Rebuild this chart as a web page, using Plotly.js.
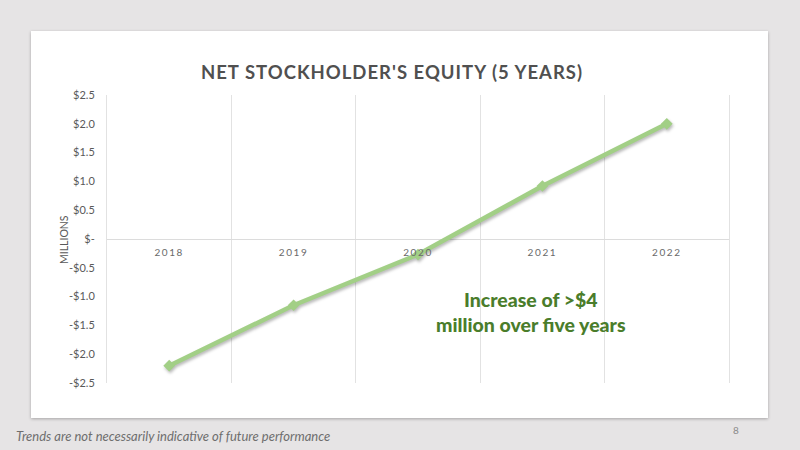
<!DOCTYPE html>
<html>
<head>
<meta charset="utf-8">
<script src="https://cdn.plot.ly/plotly-3.0.1.min.js"></script>
<style>
  html, body { margin: 0; padding: 0; }
  body { width: 800px; height: 450px; background: #e6e4e5; position: relative; overflow: hidden; }
  #card { position: absolute; left: 31px; top: 31px; width: 737px; height: 387px; background: #ffffff;
          box-shadow: 0 1px 3px rgba(0,0,0,0.28); }
  #chart { position: absolute; left: 0; top: 0; width: 800px; height: 450px; }
  #chart .xtick text { letter-spacing: 1.6px; }
  #chart .gtitle { letter-spacing: 1px; }
  #chart .scatterlayer .trace { filter: drop-shadow(1px 2px 1.5px rgba(0,0,0,0.28)); }
</style>
</head>
<body>
<div id="card"></div>
<div id="chart"></div>
<script>
// Net stockholder's equity, in millions of dollars
const years = ['2018', '2019', '2020', '2021', '2022'];
const equity = [-2.2, -1.15, -0.27, 0.92, 2.0];

// Value-axis ticks
const yTickVals = [2.5, 2.0, 1.5, 1.0, 0.5, 0, -0.5, -1.0, -1.5, -2.0, -2.5];
const yTickText = ['$2.5', '$2.0', '$1.5', '$1.0', '$0.5', '$-', '-$0.5', '-$1.0', '-$1.5', '-$2.0', '-$2.5'];

const chartTitle = "NET STOCKHOLDER'S EQUITY (5 YEARS)";
const axisLabel = 'MILLIONS';
const callout = 'Increase of >$4<br>million over five years';
const footnote = 'Trends are not necessarily indicative of future performance';
const pageNumber = '8';

const W = 800, H = 450;
const margin = { l: 107, r: 71, t: 95, b: 67 };
const plotW = W - margin.l - margin.r;
const plotH = H - margin.t - margin.b;
// pixel position -> paper fraction helpers for page furniture
const px = x => (x - margin.l) / plotW;
const py = y => (H - margin.b - y) / plotH;

const lineGreen = '#a2cf86';
const gridGrey = '#e2e2e2';

const trace = {
  type: 'scatter',
  mode: 'lines+markers',
  x: years,
  y: equity,
  line: { color: lineGreen, width: 4.5 },
  marker: { symbol: 'diamond', size: 9, color: lineGreen },
  hoverinfo: 'skip',
  showlegend: false
};

const layout = {
  width: W,
  height: H,
  margin: margin,
  paper_bgcolor: 'rgba(0,0,0,0)',
  plot_bgcolor: 'rgba(0,0,0,0)',
  font: { family: 'Lato, "Open Sans", sans-serif', color: '#595959' },
  title: {
    text: '<b>' + chartTitle + '</b>',
    font: { family: 'Lato, sans-serif', size: 18.5, color: '#505050', weight: 900 },
    xref: 'container', yref: 'container',
    x: 0.49, xanchor: 'center',
    y: 1 - 73 / H, yanchor: 'middle'
  },
  xaxis: {
    type: 'category',
    range: [-0.5, 4.5],
    tickson: 'boundaries',
    ticks: '',
    ticklabelstandoff: 6,
    showgrid: true,
    gridcolor: gridGrey,
    gridwidth: 1,
    showline: false,
    zeroline: false,
    anchor: 'free',
    position: 0.5,
    tickfont: { family: 'Lato, sans-serif', size: 10, color: '#6a6a6a' },
    fixedrange: true
  },
  yaxis: {
    range: [-2.5, 2.5],
    tickvals: yTickVals,
    ticktext: yTickText,
    ticks: '',
    ticklabelstandoff: 9,
    showgrid: false,
    zeroline: true,
    zerolinecolor: '#dcdcdc',
    zerolinewidth: 1,
    // outer vertical frame lines at both plot edges
    showline: true,
    mirror: true,
    linecolor: gridGrey,
    linewidth: 1,
    tickfont: { family: 'Lato, sans-serif', size: 11, color: '#595959' },
    fixedrange: true
  },
  annotations: [
    {
      text: axisLabel, textangle: -90,
      xref: 'paper', yref: 'paper', x: px(64), y: py(240),
      xanchor: 'center', yanchor: 'middle', showarrow: false,
      font: { family: 'Lato, sans-serif', size: 10.5, color: '#595959' }
    },
    {
      text: callout,
      xref: 'paper', yref: 'paper', x: px(531), y: py(312),
      xanchor: 'center', yanchor: 'middle', align: 'center', showarrow: false,
      font: { family: 'Lato, sans-serif', size: 19.5, color: '#4a7d2b', weight: 900 }
    },
    {
      text: '<i>' + footnote + '</i>',
      xref: 'paper', yref: 'paper', x: px(14), y: py(436),
      xanchor: 'left', yanchor: 'middle', showarrow: false,
      font: { family: 'Lato, sans-serif', size: 13, color: '#6e6e6e' }
    },
    {
      text: pageNumber,
      xref: 'paper', yref: 'paper', x: px(736), y: py(430),
      xanchor: 'center', yanchor: 'middle', showarrow: false,
      font: { family: 'Lato, sans-serif', size: 10, color: '#8a8a8a' }
    }
  ]
};

Plotly.newPlot('chart', [trace], layout, { displayModeBar: false, staticPlot: true });
</script>
</body>
</html>
